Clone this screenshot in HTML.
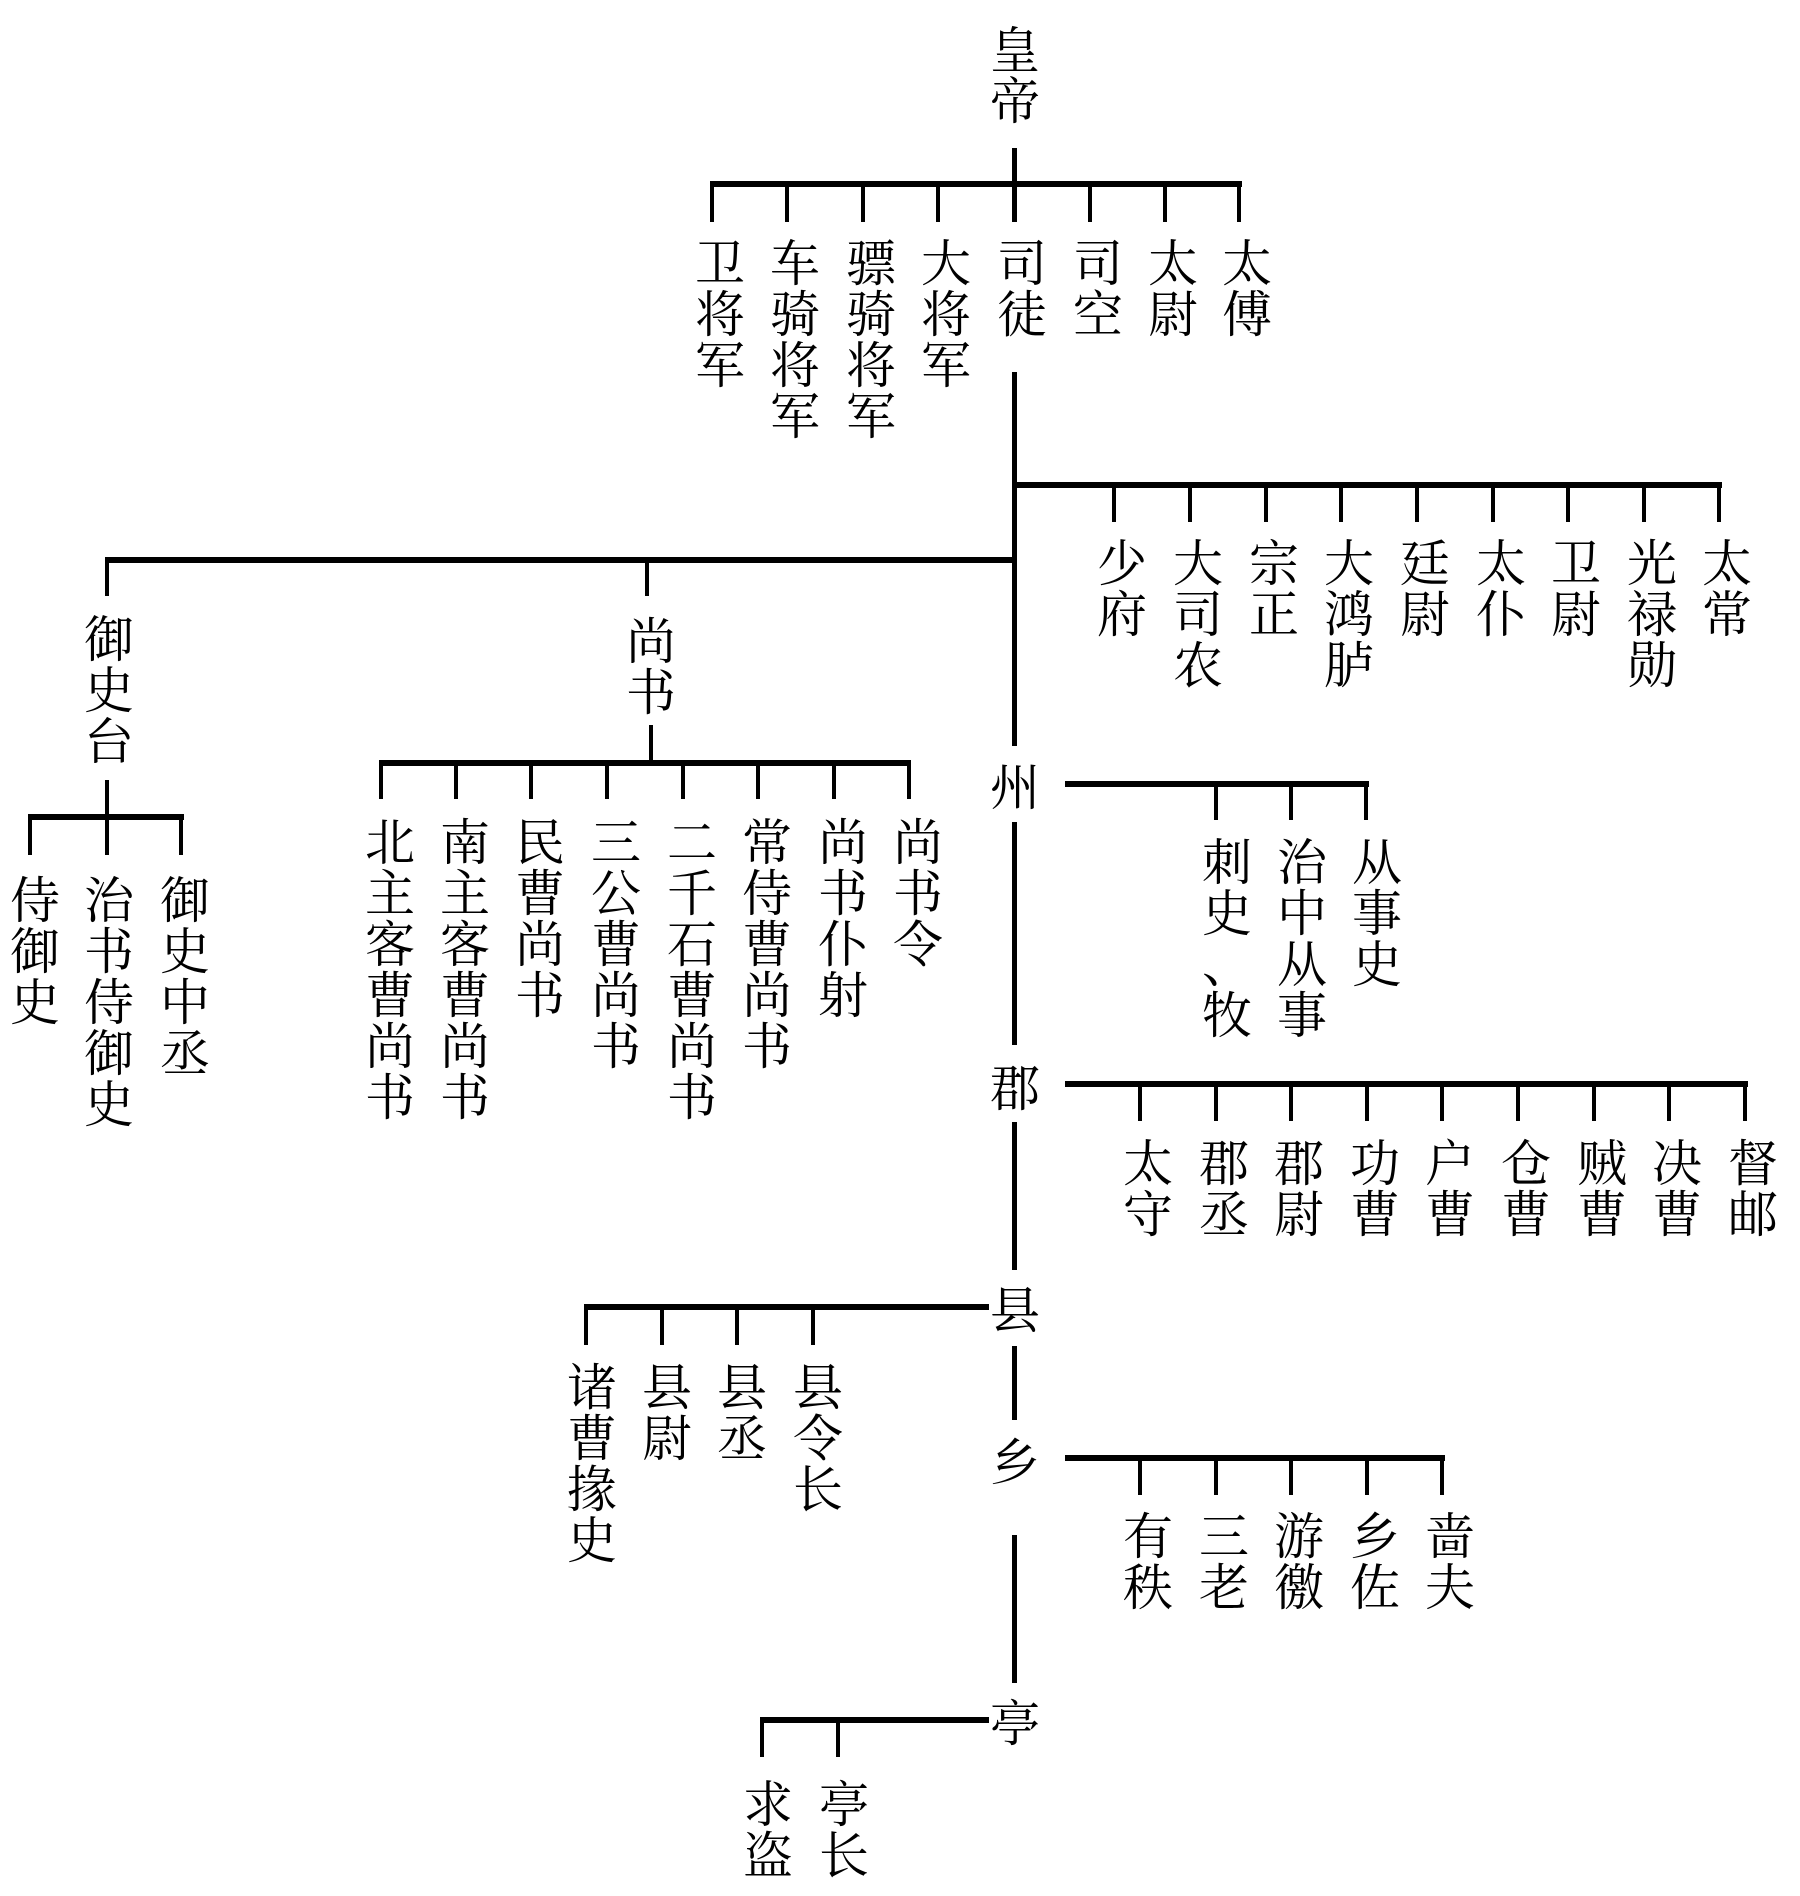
<!DOCTYPE html>
<html><head><meta charset="utf-8">
<style>
html,body{margin:0;padding:0;background:#fff;}
body{width:1800px;height:1896px;position:relative;overflow:hidden;}
.h{position:absolute;height:6px;background:#000;}
.t{position:absolute;width:4px;background:#000;}
.v{position:absolute;width:70px;text-align:center;font-family:"Liberation Serif","Noto Serif CJK SC",serif;font-size:50px;line-height:51px;color:#000;}
</style></head><body>
<!-- spine -->
<div class="t" style="left:1012px;top:148px;height:74px;width:5px"></div>
<div class="t" style="left:1012px;top:372px;height:374px;width:5px"></div>
<div class="t" style="left:1012px;top:822px;height:223px;width:5px"></div>
<div class="t" style="left:1012px;top:1122px;height:148px;width:5px"></div>
<div class="t" style="left:1012px;top:1346px;height:74px;width:5px"></div>
<div class="t" style="left:1012px;top:1535px;height:148px;width:5px"></div>

<div class="v" style="left:980px;top:26px">皇<br>帝</div>

<!-- top bar -->
<div class="h" style="left:710px;top:181px;width:532px"></div>
<div class="t" style="left:710px;top:183px;height:39px"></div>
<div class="t" style="left:785px;top:183px;height:39px"></div>
<div class="t" style="left:861px;top:183px;height:39px"></div>
<div class="t" style="left:936px;top:183px;height:39px"></div>
<div class="t" style="left:1088px;top:183px;height:39px"></div>
<div class="t" style="left:1163px;top:183px;height:39px"></div>
<div class="t" style="left:1237px;top:183px;height:39px"></div>
<div class="v" style="left:685px;top:239px">卫<br>将<br>军</div>
<div class="v" style="left:760px;top:239px">车<br>骑<br>将<br>军</div>
<div class="v" style="left:836px;top:239px">骠<br>骑<br>将<br>军</div>
<div class="v" style="left:911px;top:239px">大<br>将<br>军</div>
<div class="v" style="left:987px;top:239px">司<br>徒</div>
<div class="v" style="left:1063px;top:239px">司<br>空</div>
<div class="v" style="left:1138px;top:239px">太<br>尉</div>
<div class="v" style="left:1212px;top:239px">太<br>傅</div>

<!-- 九卿 bar -->
<div class="h" style="left:1014px;top:482px;width:708px"></div>
<div class="t" style="left:1112px;top:485px;height:37px"></div>
<div class="t" style="left:1188px;top:485px;height:37px"></div>
<div class="t" style="left:1264px;top:485px;height:37px"></div>
<div class="t" style="left:1339px;top:485px;height:37px"></div>
<div class="t" style="left:1415px;top:485px;height:37px"></div>
<div class="t" style="left:1491px;top:485px;height:37px"></div>
<div class="t" style="left:1566px;top:485px;height:37px"></div>
<div class="t" style="left:1642px;top:485px;height:37px"></div>
<div class="t" style="left:1717px;top:485px;height:37px"></div>
<div class="v" style="left:1087px;top:539px">少<br>府</div>
<div class="v" style="left:1163px;top:539px">大<br>司<br>农</div>
<div class="v" style="left:1239px;top:539px">宗<br>正</div>
<div class="v" style="left:1314px;top:539px">大<br>鸿<br>胪</div>
<div class="v" style="left:1390px;top:539px">廷<br>尉</div>
<div class="v" style="left:1466px;top:539px">太<br>仆</div>
<div class="v" style="left:1541px;top:539px">卫<br>尉</div>
<div class="v" style="left:1617px;top:539px">光<br>禄<br>勋</div>
<div class="v" style="left:1692px;top:539px">太<br>常</div>

<!-- left bar -->
<div class="h" style="left:105px;top:557px;width:912px"></div>
<div class="t" style="left:105px;top:560px;height:36px"></div>
<div class="t" style="left:645px;top:560px;height:36px"></div>
<div class="v" style="left:74px;top:615px">御<br>史<br>台</div>
<div class="v" style="left:616px;top:617px">尚<br>书</div>

<!-- 御史台 children -->
<div class="t" style="left:105px;top:780px;height:75px"></div>
<div class="h" style="left:28px;top:814px;width:156px"></div>
<div class="t" style="left:28px;top:817px;height:38px"></div>
<div class="t" style="left:179px;top:817px;height:38px"></div>
<div class="v" style="left:0px;top:876px">侍<br>御<br>史</div>
<div class="v" style="left:74px;top:876px">治<br>书<br>侍<br>御<br>史</div>
<div class="v" style="left:150px;top:876px">御<br>史<br>中<br>丞</div>

<!-- 尚书 children -->
<div class="t" style="left:649px;top:725px;height:38px"></div>
<div class="h" style="left:379px;top:760px;width:532px"></div>
<div class="t" style="left:379px;top:763px;height:36px"></div>
<div class="t" style="left:454px;top:763px;height:36px"></div>
<div class="t" style="left:529px;top:763px;height:36px"></div>
<div class="t" style="left:605px;top:763px;height:36px"></div>
<div class="t" style="left:681px;top:763px;height:36px"></div>
<div class="t" style="left:756px;top:763px;height:36px"></div>
<div class="t" style="left:832px;top:763px;height:36px"></div>
<div class="t" style="left:907px;top:763px;height:36px"></div>
<div class="v" style="left:355px;top:818px">北<br>主<br>客<br>曹<br>尚<br>书</div>
<div class="v" style="left:430px;top:818px">南<br>主<br>客<br>曹<br>尚<br>书</div>
<div class="v" style="left:505px;top:818px">民<br>曹<br>尚<br>书</div>
<div class="v" style="left:581px;top:818px">三<br>公<br>曹<br>尚<br>书</div>
<div class="v" style="left:657px;top:818px">二<br>千<br>石<br>曹<br>尚<br>书</div>
<div class="v" style="left:732px;top:818px">常<br>侍<br>曹<br>尚<br>书</div>
<div class="v" style="left:808px;top:818px">尚<br>书<br>仆<br>射</div>
<div class="v" style="left:883px;top:818px">尚<br>书<br>令</div>

<!-- 州 -->
<div class="v" style="left:980px;top:763px">州</div>
<div class="h" style="left:1065px;top:781px;width:304px"></div>
<div class="t" style="left:1214px;top:784px;height:36px"></div>
<div class="t" style="left:1289px;top:784px;height:36px"></div>
<div class="t" style="left:1364px;top:784px;height:36px"></div>
<div class="v" style="left:1192px;top:838px">刺<br>史<br>、<br>牧</div>
<div class="v" style="left:1267px;top:838px">治<br>中<br>从<br>事</div>
<div class="v" style="left:1342px;top:838px">从<br>事<br>史</div>

<!-- 郡 -->
<div class="v" style="left:980px;top:1064px">郡</div>
<div class="h" style="left:1065px;top:1081px;width:683px"></div>
<div class="t" style="left:1138px;top:1084px;height:37px"></div>
<div class="t" style="left:1214px;top:1084px;height:37px"></div>
<div class="t" style="left:1289px;top:1084px;height:37px"></div>
<div class="t" style="left:1365px;top:1084px;height:37px"></div>
<div class="t" style="left:1440px;top:1084px;height:37px"></div>
<div class="t" style="left:1516px;top:1084px;height:37px"></div>
<div class="t" style="left:1592px;top:1084px;height:37px"></div>
<div class="t" style="left:1667px;top:1084px;height:37px"></div>
<div class="t" style="left:1743px;top:1084px;height:37px"></div>
<div class="v" style="left:1113px;top:1139px">太<br>守</div>
<div class="v" style="left:1189px;top:1139px">郡<br>丞</div>
<div class="v" style="left:1264px;top:1139px">郡<br>尉</div>
<div class="v" style="left:1340px;top:1139px">功<br>曹</div>
<div class="v" style="left:1415px;top:1139px">户<br>曹</div>
<div class="v" style="left:1491px;top:1139px">仓<br>曹</div>
<div class="v" style="left:1567px;top:1139px">贼<br>曹</div>
<div class="v" style="left:1642px;top:1139px">决<br>曹</div>
<div class="v" style="left:1718px;top:1139px">督<br>邮</div>

<!-- 县 -->
<div class="v" style="left:980px;top:1286px">县</div>
<div class="h" style="left:584px;top:1304px;width:405px"></div>
<div class="t" style="left:584px;top:1307px;height:38px"></div>
<div class="t" style="left:660px;top:1307px;height:38px"></div>
<div class="t" style="left:735px;top:1307px;height:38px"></div>
<div class="t" style="left:811px;top:1307px;height:38px"></div>
<div class="v" style="left:557px;top:1363px">诸<br>曹<br>掾<br>史</div>
<div class="v" style="left:632px;top:1363px">县<br>尉</div>
<div class="v" style="left:707px;top:1363px">县<br>丞</div>
<div class="v" style="left:783px;top:1363px">县<br>令<br>长</div>

<!-- 乡 -->
<div class="v" style="left:980px;top:1438px">乡</div>
<div class="h" style="left:1065px;top:1455px;width:380px"></div>
<div class="t" style="left:1138px;top:1458px;height:37px"></div>
<div class="t" style="left:1214px;top:1458px;height:37px"></div>
<div class="t" style="left:1289px;top:1458px;height:37px"></div>
<div class="t" style="left:1365px;top:1458px;height:37px"></div>
<div class="t" style="left:1440px;top:1458px;height:37px"></div>
<div class="v" style="left:1113px;top:1512px">有<br>秩</div>
<div class="v" style="left:1189px;top:1512px">三<br>老</div>
<div class="v" style="left:1264px;top:1512px">游<br>徼</div>
<div class="v" style="left:1340px;top:1512px">乡<br>佐</div>
<div class="v" style="left:1415px;top:1512px">啬<br>夫</div>

<!-- 亭 -->
<div class="v" style="left:980px;top:1699px">亭</div>
<div class="h" style="left:760px;top:1717px;width:229px"></div>
<div class="t" style="left:760px;top:1720px;height:37px"></div>
<div class="t" style="left:836px;top:1720px;height:37px"></div>
<div class="v" style="left:733px;top:1780px">求<br>盗</div>
<div class="v" style="left:809px;top:1780px">亭<br>长</div>
</body></html>
